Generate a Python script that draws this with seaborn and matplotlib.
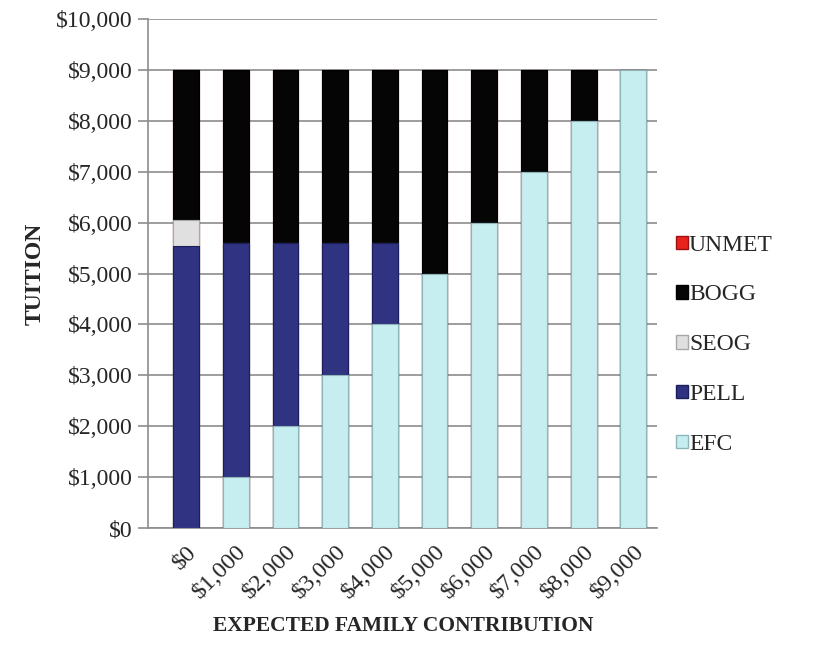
import numpy as np
import pandas as pd
import matplotlib
matplotlib.use("Agg")
import matplotlib.pyplot as plt
import seaborn as sns
from matplotlib.patches import Patch

# chart values
categories = ["$0", "$1,000", "$2,000", "$3,000", "$4,000",
              "$5,000", "$6,000", "$7,000", "$8,000", "$9,000"]
efc = [0, 1000, 2000, 3000, 4000, 5000, 6000, 7000, 8000, 9000]
pell = [5550, 4600, 3600, 2600, 1600, 0, 0, 0, 0, 0]
seog = [500, 0, 0, 0, 0, 0, 0, 0, 0, 0]
bogg = [2950, 3400, 3400, 3400, 3400, 4000, 3000, 2000, 1000, 0]
unmet = [0, 0, 0, 0, 0, 0, 0, 0, 0, 0]

series = ["EFC", "PELL", "SEOG", "BOGG", "UNMET"]
colors = {"EFC": "#c6edf0", "PELL": "#2f3381", "SEOG": "#e0e0e0",
          "BOGG": "#050505", "UNMET": "#e8231c"}
edges = {"EFC": "#8fb5b9", "PELL": "#1c1f5c", "SEOG": "#a8a8a8",
         "BOGG": "#000000", "UNMET": "#a01010"}

df = pd.DataFrame({"EFC": efc, "PELL": pell, "SEOG": seog,
                   "BOGG": bogg, "UNMET": unmet}, index=categories)
cum = df[series].cumsum(axis=1)

sns.set_style("white")
plt.rcParams['font.family'] = ['Liberation Serif', 'DejaVu Serif']

fig = plt.figure(figsize=(8.33, 6.52), dpi=100)
ax = fig.add_axes([0.178, 0.19, 0.611, 0.781])

# draw cumulative totals from top to bottom so each layer overlays the previous one
for s in reversed(series):
    sns.barplot(x=categories, y=cum[s].values, color=colors[s], width=0.52,
                edgecolor=edges[s], linewidth=0.8, saturation=1, ax=ax, zorder=3)

ax.set_ylim(0, 10000)
ax.set_yticks(np.arange(0, 10001, 1000))
ax.set_yticklabels([f"${v:,.0f}" for v in np.arange(0, 10001, 1000)], fontsize=17)
ax.set_xticks(range(len(categories)))
ax.set_xticklabels(categories, rotation=45, ha="right", rotation_mode="anchor", fontsize=17.5)
ax.set_xlim(-0.76, 9.48)

ax.yaxis.grid(True, color="#8c8c8c", linewidth=1.2, zorder=0)
ax.set_axisbelow(True)
for sp in ["top", "right"]:
    ax.spines[sp].set_visible(False)
for sp in ["left", "bottom"]:
    ax.spines[sp].set_color("#8c8c8c")
    ax.spines[sp].set_linewidth(1.2)
ax.tick_params(axis="y", which="both", left=True, length=7, color="#8c8c8c", width=1.2, pad=4)
ax.tick_params(axis="x", bottom=False, pad=6)

ax.set_ylabel("TUITION", fontsize=17, fontweight="bold", labelpad=8)
ax.set_xlabel("EXPECTED FAMILY CONTRIBUTION", fontsize=15.5, fontweight="bold", labelpad=9)

handles = [Patch(facecolor=colors[s], edgecolor=edges[s], label=s) for s in reversed(series)]
ax.legend(handles=handles, loc="center left", bbox_to_anchor=(0.995, 0.36), frameon=False,
          fontsize=17, handlelength=0.5, handleheight=0.5, handletextpad=0.05,
          labelspacing=1.22)

fig.savefig("out.png", dpi=100)
